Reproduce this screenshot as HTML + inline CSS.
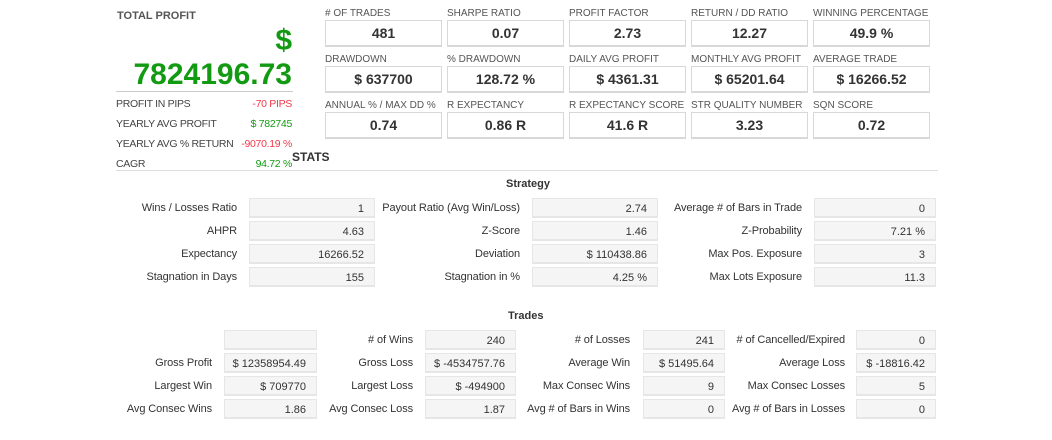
<!DOCTYPE html>
<html><head><meta charset="utf-8"><style>
body{margin:0;width:1052px;height:440px;background:#fff;font-family:"Liberation Sans",Arial,sans-serif;position:relative;overflow:hidden;color:#333}
.a{position:absolute;white-space:nowrap}
.tl{font-size:10px;color:#555}
.tb{position:absolute;width:115px;height:24px;border:1px solid #d8d8d8;border-bottom-width:2px;font-weight:bold;font-size:14px;text-align:center;line-height:25px;color:#333;background:#fff}
.vb{position:absolute;height:20px;background:#f5f5f5;border:1px solid #e6e6e6;border-bottom-width:2px;font-size:11px;text-align:right;line-height:21px;padding-right:10px;box-sizing:border-box;color:#333}
.lb{position:absolute;font-size:11px;text-align:right;line-height:21px;color:#333;white-space:nowrap;letter-spacing:-0.1px}
.sl{font-size:10.5px;color:#444;letter-spacing:-0.3px}
</style></head><body>
<div class="a" style="left:117px;top:10px;font-size:11px;font-weight:bold;color:#555">TOTAL PROFIT</div>
<div class="a" style="right:760px;top:24px;font-size:30px;font-weight:bold;color:#139a13">$</div>
<div class="a" style="right:760px;top:58px;font-size:30px;font-weight:bold;color:#139a13">7824196.73</div>
<div class="a" style="left:116px;top:91px;width:177px;height:1px;background:#ccc"></div>
<div class="a sl" style="left:116px;top:98px">PROFIT IN PIPS</div>
<div class="a sl" style="right:760px;top:98px;color:#f03a4a">-70 PIPS</div>
<div class="a sl" style="left:116px;top:118px">YEARLY AVG PROFIT</div>
<div class="a sl" style="right:760px;top:118px;color:#139a13">$ 782745</div>
<div class="a sl" style="left:116px;top:138px">YEARLY AVG % RETURN</div>
<div class="a sl" style="right:760px;top:138px;color:#f03a4a">-9070.19 %</div>
<div class="a sl" style="left:116px;top:158px">CAGR</div>
<div class="a sl" style="right:760px;top:158px;color:#139a13">94.72 %</div>
<div class="a" style="left:292px;top:150px;font-size:12px;font-weight:bold;color:#333">STATS</div>
<div class="a" style="left:116px;top:170px;width:822px;height:1px;background:#ddd"></div>
<div class="a" style="left:506px;top:178px;font-size:11px;font-weight:bold">Strategy</div>
<div class="a" style="left:508px;top:310px;font-size:11px;font-weight:bold">Trades</div>
<div id="root"></div>
<script>
var topLabels=[["# OF TRADES","SHARPE RATIO","PROFIT FACTOR","RETURN / DD RATIO","WINNING PERCENTAGE"],["DRAWDOWN","% DRAWDOWN","DAILY AVG PROFIT","MONTHLY AVG PROFIT","AVERAGE TRADE"],["ANNUAL % / MAX DD %","R EXPECTANCY","R EXPECTANCY SCORE","STR QUALITY NUMBER","SQN SCORE"]];
var topValues=[["481","0.07","2.73","12.27","49.9 %"],["$ 637700","128.72 %","$ 4361.31","$ 65201.64","$ 16266.52"],["0.74","0.86 R","41.6 R","3.23","0.72"]];
var stratLabels=[["Wins / Losses Ratio","Payout Ratio (Avg Win/Loss)","Average # of Bars in Trade"],["AHPR","Z-Score","Z-Probability"],["Expectancy","Deviation","Max Pos. Exposure"],["Stagnation in Days","Stagnation in %","Max Lots Exposure"]];
var stratValues=[["1","2.74","0"],["4.63","1.46","7.21 %"],["16266.52","$ 110438.86","3"],["155","4.25 %","11.3"]];
var tradeLabels=[["","# of Wins","# of Losses","# of Cancelled/Expired"],["Gross Profit","Gross Loss","Average Win","Average Loss"],["Largest Win","Largest Loss","Max Consec Wins","Max Consec Losses"],["Avg Consec Wins","Avg Consec Loss","Avg # of Bars in Wins","Avg # of Bars in Losses"]];
var tradeValues=[["","240","241","0"],["$ 12358954.49","$ -4534757.76","$ 51495.64","$ -18816.42"],["$ 709770","$ -494900","9","5"],["1.86","1.87","0","0"]];
var root=document.getElementById('root');
function slug(s){return s.toLowerCase().replace(/[^a-z0-9]+/g,'-').replace(/^-|-$/g,'')||'blank';}
topLabels.forEach(function(row,r){row.forEach(function(l,c){
 var x=325+c*122,y=20+r*46;
 var t=document.createElement('div');t.className='a tl';t.style.left=x+'px';t.style.top=(y-12)+'px';t.textContent=l;
 
 
 root.appendChild(t);
 var b=document.createElement('div');b.className='tb';b.style.left=x+'px';b.style.top=y+'px';b.textContent=topValues[r][c];
 
 
 root.appendChild(b);
});});
var sLabEnd=[237,520,802],sBox=[[249,126],[532,126],[814,122]];
stratLabels.forEach(function(row,r){row.forEach(function(l,c){
 var y=198+r*23;
 var t=document.createElement('div');t.className='lb';t.style.right=(1052-sLabEnd[c])+'px';t.style.top=y+'px';t.textContent=l;
 
 
 root.appendChild(t);
 var b=document.createElement('div');b.className='vb';b.style.left=sBox[c][0]+'px';b.style.width=sBox[c][1]+'px';b.style.top=y+'px';b.textContent=stratValues[r][c];
 
 
 root.appendChild(b);
});});
var tLabEnd=[212,413,630,845],tBox=[[224,93],[425,91],[643,82],[856,80]];
tradeLabels.forEach(function(row,r){row.forEach(function(l,c){
 var y=330+r*23;
 var t=document.createElement('div');t.className='lb';t.style.right=(1052-tLabEnd[c])+'px';t.style.top=y+'px';t.textContent=l;
 
 
 root.appendChild(t);
 var b=document.createElement('div');b.className='vb';b.style.left=tBox[c][0]+'px';b.style.width=tBox[c][1]+'px';b.style.top=y+'px';b.textContent=tradeValues[r][c];
 
 
 root.appendChild(b);
});});
</script>
</body></html>
